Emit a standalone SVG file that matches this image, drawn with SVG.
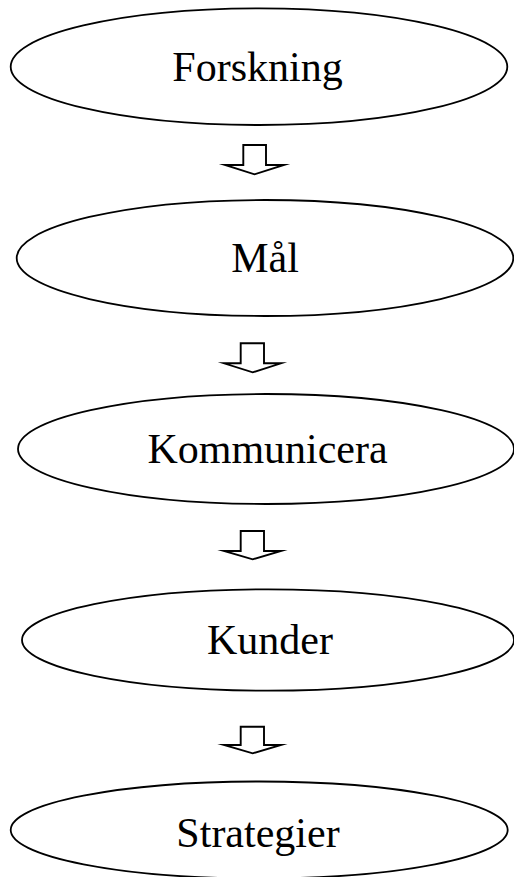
<svg xmlns="http://www.w3.org/2000/svg" width="514" height="877" viewBox="0 0 514 877">
<style>
.node ellipse{fill:#fff;stroke:#000;stroke-width:1.8}
.node text{font-family:"Liberation Serif","Times New Roman",serif;font-size:42px;fill:#000;text-anchor:middle}
.conn polygon{fill:#fff;stroke:#000;stroke-width:1.9;stroke-linejoin:miter;stroke-miterlimit:20}
</style>
<rect width="514" height="877" fill="#fff"/>
<g id="n1" class="node"><ellipse cx="259" cy="66.7" rx="248.3" ry="58.3"/><text x="257.5" y="81">Forskning</text></g>
<g id="n2" class="node"><ellipse cx="265" cy="258" rx="248.3" ry="58"/><text x="265" y="271.7">Mål</text></g>
<g id="n3" class="node"><ellipse cx="266" cy="449" rx="248" ry="55"/><text x="267.5" y="462.7">Kommunicera</text></g>
<g id="n4" class="node"><ellipse cx="268" cy="640" rx="246" ry="50.7"/><text x="270" y="654">Kunder</text></g>
<g id="n5" class="node"><ellipse cx="259.2" cy="830" rx="248.5" ry="48.5"/><text x="258" y="846.7">Strategier</text></g>
<g id="connectors" class="conn">
<polygon points="243.3,145 266,145 266,165 284,165 254.5,174.3 225,165 243.3,165"/>
<polygon points="240.7,343.3 264,343.3 264,363.3 281,363.3 252.7,372.3 224,363.3 240.7,363.3"/>
<polygon points="240.7,531 264,531 264,551 281,551 252.7,559.3 224,551 240.7,551"/>
<polygon points="240.7,726.7 264,726.7 264,745 281,745 252.7,753.3 224,745 240.7,745"/>
</g>
</svg>
